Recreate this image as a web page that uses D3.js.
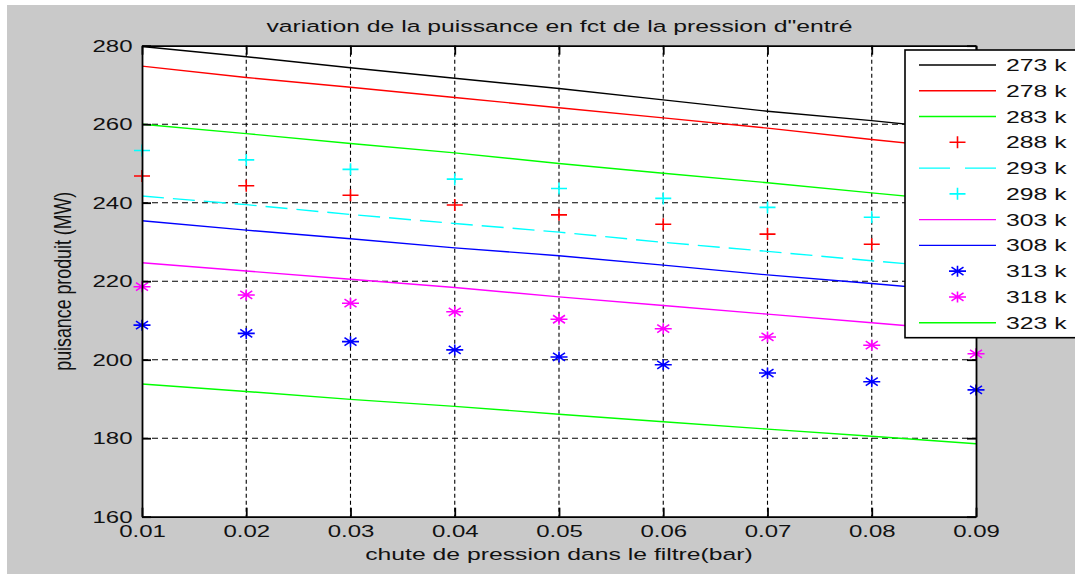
<!DOCTYPE html>
<html>
<head>
<meta charset="utf-8">
<script src="https://cdn.jsdelivr.net/npm/d3@7"></script>
<style>
  html, body { margin: 0; padding: 0; background: #ffffff; }
  svg { display: block; }
  text { font-family: "Liberation Sans", Arial, sans-serif; fill: #111; }
</style>
</head>
<body>
<svg id="chart" width="1075" height="574"></svg>
<script>
// Pressure drop across the filter (bar)
const pressureDrop = [0.01, 0.02, 0.03, 0.04, 0.05, 0.06, 0.07, 0.08, 0.09];

// Produced power (MW) for each inlet temperature
const power273 = [279.8, 277.2, 274.4, 271.7, 269.1, 266.2, 263.3, 260.9, 258.2];
const power278 = [274.8, 271.9, 269.4, 266.8, 264.2, 261.6, 259.0, 256.1, 253.4];
const power283 = [260.0, 257.6, 255.1, 252.7, 250.0, 247.5, 245.1, 242.5, 240.0];
const power288 = [246.8, 244.3, 241.9, 239.4, 236.9, 234.5, 232.0, 229.4, 227.0];
const power293 = [241.7, 239.5, 237.0, 234.7, 232.5, 229.9, 227.6, 225.2, 222.9];
const power298 = [253.3, 250.9, 248.5, 246.0, 243.6, 241.1, 238.8, 236.3, 233.9];
const power303 = [224.7, 222.6, 220.5, 218.4, 216.0, 213.8, 211.6, 209.4, 207.2];
const power308 = [235.4, 233.0, 230.8, 228.5, 226.5, 224.1, 221.6, 219.4, 217.1];
const power313 = [208.8, 206.7, 204.6, 202.5, 200.7, 198.7, 196.6, 194.4, 192.3];
const power318 = [218.6, 216.5, 214.4, 212.2, 210.3, 207.9, 205.8, 203.7, 201.5];
const power323 = [193.8, 191.9, 189.9, 188.1, 186.1, 184.2, 182.3, 180.5, 178.6];

const seriesLabels = ["273 k", "278 k", "283 k", "288 k", "293 k", "298 k",
                      "303 k", "308 k", "313 k", "318 k", "323 k"];
const seriesValues = [power273, power278, power283, power288, power293, power298,
                      power303, power308, power313, power318, power323];

const xTickValues = [0.01, 0.02, 0.03, 0.04, 0.05, 0.06, 0.07, 0.08, 0.09];
const yTickValues = [160, 180, 200, 220, 240, 260, 280];

const titleText = "variation de la puissance en fct de la pression d\"entré";
const xLabelText = "chute de pression dans le filtre(bar)";
const yLabelText = "puisance produit (MW)";

// Drawing style for each series (MATLAB-like line specs)
const seriesStyles = [
  { color: "#000000", kind: "line" },
  { color: "#ff0000", kind: "line" },
  { color: "#00ff00", kind: "line" },
  { color: "#ff0000", kind: "plus" },
  { color: "#00ffff", kind: "dash" },
  { color: "#00ffff", kind: "plus" },
  { color: "#ff00ff", kind: "line" },
  { color: "#0000ff", kind: "line" },
  { color: "#0000ff", kind: "star" },
  { color: "#ff00ff", kind: "star" },
  { color: "#00ff00", kind: "line" }
];

const W = 1075, H = 574;
const plot = { left: 142, right: 976, top: 45.7, bottom: 516.7 };
const SX = 1.5;          // horizontal glyph stretch
const FONT = 16.5;
const TICK_FONT = 16;
const TICK_LEN = 9;

const svg = d3.select("#chart");

// figure background
svg.append("rect").attr("x", 0).attr("y", 0).attr("width", W).attr("height", H).attr("fill", "#ffffff");
svg.append("rect").attr("x", 7).attr("y", 5).attr("width", W - 7).attr("height", H - 5).attr("fill", "#c9c9c9");

const x = d3.scaleLinear().domain([0.01, 0.09]).range([plot.left, plot.right]);
const y = d3.scaleLinear().domain([160, 280]).range([plot.bottom, plot.top]);

// axes background
svg.append("rect")
  .attr("x", x(0.01)).attr("y", y(280))
  .attr("width", x(0.09) - x(0.01)).attr("height", y(160) - y(280))
  .attr("fill", "#ffffff");

// grid
const grid = svg.append("g").attr("class", "grid");
grid.selectAll("line.vg")
  .data(xTickValues.filter(v => v > 0.01 + 1e-9 && v < 0.09 - 1e-9))
  .join("line").attr("class", "vg")
  .attr("x1", d => x(d)).attr("x2", d => x(d))
  .attr("y1", y(280)).attr("y2", y(160))
  .attr("stroke", "#000").attr("stroke-width", 1.1)
  .attr("stroke-dasharray", "4,3");
grid.selectAll("line.hg")
  .data(yTickValues.filter(v => v > 160 && v < 280))
  .join("line").attr("class", "hg")
  .attr("x1", x(0.01)).attr("x2", x(0.09))
  .attr("y1", d => y(d)).attr("y2", d => y(d))
  .attr("stroke", "#000").attr("stroke-width", 1.1)
  .attr("stroke-dasharray", "6,4");

// marker shapes
function markerPath(kind) {
  if (kind === "plus") return "M-8,0H8M0,-6V6";
  if (kind === "star") return "M-8.5,0H8.5M0,-5.5V5.5M-6,-4L6,4M-6,4L6,-4";
  return "";
}

const line = d3.line().x((d, i) => x(pressureDrop[i])).y(d => y(d));

const dataLayer = svg.append("g").attr("class", "data");
seriesValues.forEach((vals, si) => {
  const st = seriesStyles[si];
  if (st.kind === "line" || st.kind === "dash") {
    dataLayer.append("path")
      .datum(vals)
      .attr("d", line)
      .attr("fill", "none")
      .attr("stroke", st.color)
      .attr("stroke-width", 1.4)
      .attr("stroke-dasharray", st.kind === "dash" ? "22,9" : null);
  } else {
    dataLayer.append("g").selectAll("path")
      .data(vals)
      .join("path")
      .attr("transform", (d, i) => `translate(${x(pressureDrop[i])},${y(d)})`)
      .attr("d", markerPath(st.kind))
      .attr("fill", "none")
      .attr("stroke", st.color)
      .attr("stroke-width", 1.6);
  }
});

// axes (box with inward ticks)
const axisStyle = g => {
  g.select(".domain").attr("stroke", "#000").attr("stroke-width", 1.8);
  g.selectAll(".tick line").attr("stroke", "#000").attr("stroke-width", 1.8);
};

const gx = svg.append("g")
  .attr("transform", `translate(0,${plot.bottom})`)
  .call(d3.axisBottom(x).tickValues(xTickValues).tickFormat(d3.format(".2f"))
        .tickSizeInner(-TICK_LEN).tickSizeOuter(0))
  .call(axisStyle);
gx.selectAll(".tick text")
  .attr("y", 20.5).attr("dy", null)
  .attr("font-size", TICK_FONT)
  .attr("fill", "#111")
  .attr("transform", `scale(${SX},1)`);

svg.append("g")
  .attr("transform", `translate(0,${plot.top})`)
  .call(d3.axisTop(x).tickValues(xTickValues).tickFormat("")
        .tickSizeInner(-TICK_LEN).tickSizeOuter(0))
  .call(axisStyle);

const gy = svg.append("g")
  .attr("transform", `translate(${plot.left},0)`)
  .call(d3.axisLeft(y).tickValues(yTickValues).tickFormat(d3.format("d"))
        .tickSizeInner(-TICK_LEN).tickSizeOuter(0))
  .call(axisStyle);
gy.selectAll(".tick text")
  .attr("x", -9.5 / SX).attr("dy", "0.35em")
  .attr("font-size", TICK_FONT)
  .attr("fill", "#111")
  .attr("transform", `scale(${SX},1)`);

svg.append("g")
  .attr("transform", `translate(${plot.right},0)`)
  .call(d3.axisRight(y).tickValues(yTickValues).tickFormat("")
        .tickSizeInner(-TICK_LEN).tickSizeOuter(0))
  .call(axisStyle);

// title
svg.append("text")
  .attr("transform", `translate(${(plot.left + plot.right) / 2 + 0.5},32) scale(${SX},1)`)
  .attr("text-anchor", "middle")
  .attr("font-size", FONT)
  .text(titleText);

// x label
svg.append("text")
  .attr("transform", `translate(${(plot.left + plot.right) / 2},560) scale(${SX},1)`)
  .attr("text-anchor", "middle")
  .attr("font-size", FONT)
  .text(xLabelText);

// y label (rotated; glyphs stretched across the baseline)
const yl = svg.append("text")
  .attr("text-anchor", "middle")
  .attr("font-size", FONT)
  .text(yLabelText);
const yLen = yl.node().getComputedTextLength();
const yFit = 179 / yLen;
yl.attr("transform", `translate(71,${(plot.top + plot.bottom) / 2}) rotate(-90) scale(${yFit},${SX})`);

// legend
const legend = svg.append("g").attr("class", "legend");
const lg = { x: 905, y: 50, h: 287.7, rowTop: 65, rowStep: 25.77, sx1: 919, sx2: 996, tx: 1006 };
legend.append("rect")
  .attr("x", lg.x).attr("y", lg.y)
  .attr("width", W - lg.x + 20).attr("height", lg.h)
  .attr("fill", "#ffffff").attr("stroke", "#000").attr("stroke-width", 1.6);

seriesLabels.forEach((lab, i) => {
  const st = seriesStyles[i];
  const cy = lg.rowTop + i * lg.rowStep;
  if (st.kind === "line" || st.kind === "dash") {
    legend.append("line")
      .attr("x1", lg.sx1).attr("x2", lg.sx2).attr("y1", cy).attr("y2", cy)
      .attr("stroke", st.color).attr("stroke-width", 1.4)
      .attr("stroke-dasharray", st.kind === "dash" ? "31,15" : null);
  } else {
    legend.append("path")
      .attr("transform", `translate(${(lg.sx1 + lg.sx2) / 2},${cy})`)
      .attr("d", markerPath(st.kind))
      .attr("fill", "none").attr("stroke", st.color).attr("stroke-width", 1.6);
  }
  legend.append("text")
    .attr("transform", `translate(${lg.tx},${cy + 6}) scale(${SX},1)`)
    .attr("font-size", FONT)
    .text(lab);
});
</script>
</body>
</html>
